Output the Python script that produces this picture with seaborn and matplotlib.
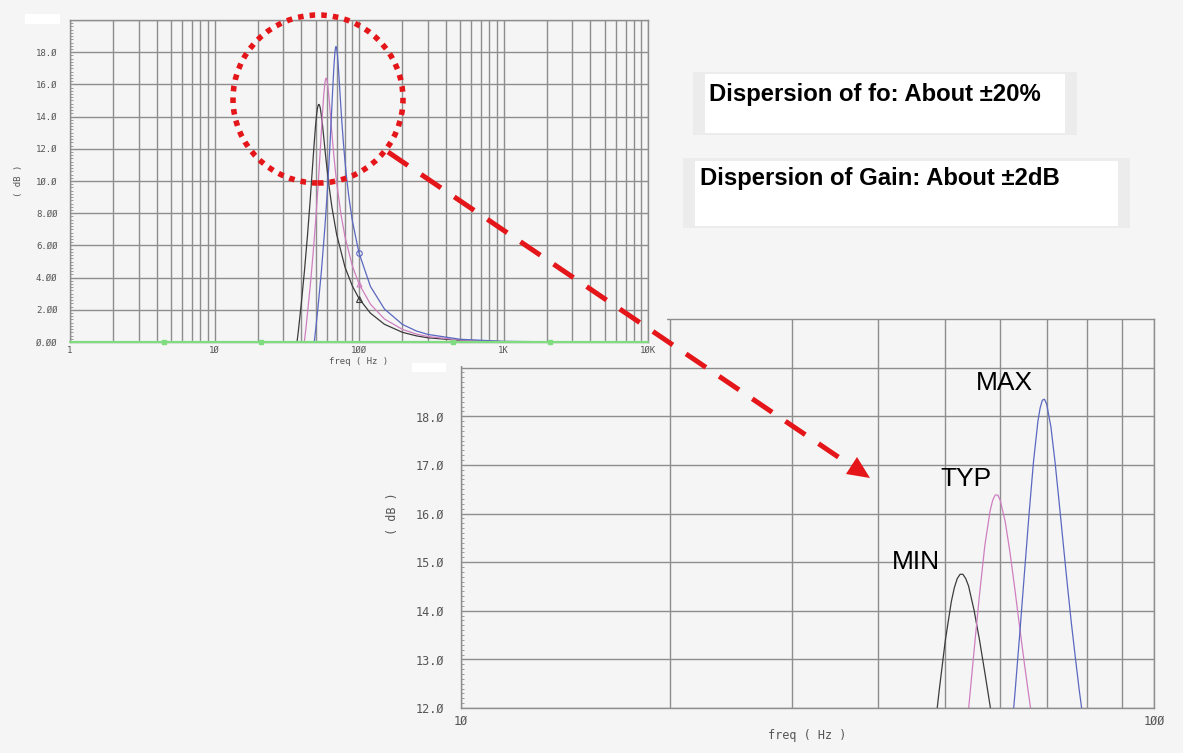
import numpy as np
import pandas as pd
import matplotlib
matplotlib.use('Agg')
import matplotlib.pyplot as plt
import seaborn as sns
from matplotlib.patches import Rectangle, Ellipse, Polygon
from matplotlib.lines import Line2D
from matplotlib.ticker import LogLocator, FixedLocator, MultipleLocator, NullFormatter

# Curvas (frecuencia en Hz, ganancia en dB)
min_freq = [20, 30, 35, 38, 40, 42, 44, 46, 48, 49, 50, 51, 51.5, 52, 52.5, 53, 53.5, 54, 55, 56,
            57, 58, 59, 60, 62, 65, 70, 80, 90, 100, 120, 150, 200, 250, 300, 500, 1000, 3000, 10000]
min_db = [-15.36, -6.30, -2.03, 0.64, 2.51, 4.49, 6.61, 8.88, 11.25, 12.38, 13.40, 14.19, 14.47,
          14.66, 14.75, 14.75, 14.66, 14.51, 14.01, 13.40, 12.73, 12.05, 11.40, 10.80, 9.70, 8.36,
          6.69, 4.65, 3.47, 2.70, 1.79, 1.10, 0.60, 0.38, 0.26, 0.10, 0.02, 0.0, 0.0]

typ_freq = [20, 30, 35, 40, 43, 46, 48, 50, 52, 53, 54, 55, 56, 57, 58, 58.5, 59, 59.5, 60, 61,
            62, 63, 64, 65, 66, 67, 68, 70, 75, 80, 90, 100, 120, 150, 200, 250, 300, 500, 1000,
            3000, 10000]
typ_db = [-17.71, -9.16, -5.34, -1.51, 0.91, 3.50, 5.37, 7.39, 9.60, 10.77, 11.97, 13.18, 14.33,
          15.34, 16.05, 16.27, 16.38, 16.38, 16.27, 15.83, 15.18, 14.43, 13.66, 12.92, 12.23,
          11.58, 10.99, 9.93, 7.93, 6.53, 4.72, 3.62, 2.35, 1.43, 0.78, 0.49, 0.34, 0.12, 0.03,
          0.0, 0.0]

max_freq = [20, 30, 40, 45, 48, 50, 52, 55, 58, 60, 61, 62, 63, 64, 65, 66, 67, 68, 68.5, 69,
            69.5, 70, 71, 72, 73, 74, 75, 76, 77, 78, 79, 80, 82, 85, 90, 100, 120, 150, 200,
            250, 300, 500, 1000, 3000, 10000]
max_db = [-20.79, -12.69, -6.00, -2.74, -0.72, 0.68, 2.13, 4.46, 7.07, 9.00, 10.04, 11.15, 12.30,
          13.51, 14.75, 15.96, 17.06, 17.90, 18.17, 18.33, 18.35, 18.25, 17.78, 17.04, 16.20,
          15.35, 14.52, 13.74, 13.04, 12.37, 11.78, 11.22, 10.25, 9.04, 7.51, 5.53, 3.45, 2.05,
          1.09, 0.68, 0.47, 0.17, 0.04, 0.0, 0.0]

ref_freq = [1, 4.5, 21, 450, 2100, 10000]
ref_db = [0, 0, 0, 0, 0, 0]

top_xticks = [1, 10, 100, 1000, 10000]
top_xlabels = ['1', '1Ø', '1ØØ', '1K', '1ØK']
top_yticks = [0, 2, 4, 6, 8, 10, 12, 14, 16, 18, 20]
top_ylabels = ['Ø.ØØ', '2.ØØ', '4.ØØ', '6.ØØ', '8.ØØ', '1Ø.Ø', '12.Ø', '14.Ø', '16.Ø', '18.Ø', '']

bot_xticks = [10, 100]
bot_xlabels = ['1Ø', '1ØØ']
bot_xminor = [20, 30, 40, 50, 60, 70, 80, 90]
bot_yticks = [12, 13, 14, 15, 16, 17, 18, 19]
bot_ylabels = ['12.Ø', '13.Ø', '14.Ø', '15.Ø', '16.Ø', '17.Ø', '18.Ø', '']

colores = {'MIN': '#3c3c3c', 'TYP': '#cf7fbf', 'MAX': '#5a68c0'}
BG = '#f5f5f5'
GRID = '#8e8e8e'
TXT = '#555555'
RED = '#e5161a'

curves = pd.concat([
    pd.DataFrame({'freq': min_freq, 'dB': min_db, 'curve': 'MIN'}),
    pd.DataFrame({'freq': typ_freq, 'dB': typ_db, 'curve': 'TYP'}),
    pd.DataFrame({'freq': max_freq, 'dB': max_db, 'curve': 'MAX'}),
], ignore_index=True)

sns.set_theme(style='white')
plt.rcParams['font.family'] = ['DejaVu Sans']
plt.rcParams['text.color'] = 'black'

W, H = 1183, 753
fig = plt.figure(figsize=(W / 100, H / 100), dpi=100)
fig.patch.set_facecolor(BG)


def fx(x):
    return x / W


def fy(y):
    return 1 - y / H


def rect(x0, y0, x1, y1, color, z):
    fig.add_artist(Rectangle((fx(x0), fy(y1)), (x1 - x0) / W, (y1 - y0) / H,
                             transform=fig.transFigure, fc=color, ec='none', zorder=z))


ax_bot = fig.add_axes([fx(461), fy(708), (1154 - 461) / W, (708 - 319) / H], zorder=0)
ax_top = fig.add_axes([fx(70), fy(342), (648 - 70) / W, (342 - 20) / H], zorder=2)

for ax in (ax_top, ax_bot):
    ax.set_facecolor(BG)
    ax.set_xscale('log')
    for s in ax.spines.values():
        s.set_color(GRID)
        s.set_linewidth(1)
    sns.lineplot(data=curves, x='freq', y='dB', hue='curve', palette=colores,
                 estimator=None, sort=False, lw=0.9, legend=False, ax=ax)

# ---- grafica superior (vista completa) ----
ax_top.set_xlim(1, 10000)
ax_top.set_ylim(0, 20)
ax_top.set_xticks(top_xticks)
ax_top.set_xticklabels(top_xlabels)
ax_top.xaxis.set_minor_locator(LogLocator(base=10, subs=np.arange(2, 10)))
ax_top.xaxis.set_minor_formatter(NullFormatter())
ax_top.set_yticks(top_yticks)
ax_top.set_yticklabels(top_ylabels)
ax_top.yaxis.set_minor_locator(MultipleLocator(0.2))
ax_top.xaxis.grid(True, which='both', color=GRID, lw=1)
ax_top.yaxis.grid(True, which='major', color=GRID, lw=1)
ax_top.tick_params(axis='x', which='both', length=0, pad=3, labelsize=6.5, labelcolor=TXT,
                   labelfontfamily='DejaVu Sans Mono')
ax_top.tick_params(axis='y', which='major', length=0, pad=9, labelsize=6.5, labelcolor=TXT,
                   labelfontfamily='DejaVu Sans Mono')
ax_top.tick_params(axis='y', which='minor', length=2.5, direction='in', color=GRID, width=0.6, left=True)
ax_top.set_xlabel('freq ( Hz )', fontsize=6.5, color=TXT, family='DejaVu Sans Mono', labelpad=1)
ax_top.set_ylabel('( dB )', fontsize=6.5, color=TXT, family='DejaVu Sans Mono', labelpad=9)

# linea de referencia verde en 0 dB
ax_top.plot(ref_freq, ref_db, color='#7fdc7f', lw=1.6, marker='s', ms=2.5,
            markevery=[1, 2, 3, 4], clip_on=False, zorder=4)

# marcadores en 100 Hz
ax_top.plot(min_freq[min_freq.index(100)], min_db[min_freq.index(100)], marker='^', ms=4,
            mfc='none', mec=colores['MIN'], mew=0.8)
ax_top.plot(typ_freq[typ_freq.index(100)], typ_db[typ_freq.index(100)], marker='^', ms=3.5,
            mfc='none', mec=colores['TYP'], mew=0.8)
ax_top.plot(max_freq[max_freq.index(100)], max_db[max_freq.index(100)], marker='o', ms=4,
            mfc='none', mec=colores['MAX'], mew=0.8)

# ---- grafica inferior (zoom del pico) ----
ax_bot.set_xlim(10, 100)
ax_bot.set_ylim(12, 20)
ax_bot.set_xticks(bot_xticks)
ax_bot.set_xticklabels(bot_xlabels)
ax_bot.xaxis.set_minor_locator(FixedLocator(bot_xminor))
ax_bot.xaxis.set_minor_formatter(NullFormatter())
ax_bot.set_yticks(bot_yticks)
ax_bot.set_yticklabels(bot_ylabels)
ax_bot.yaxis.set_minor_locator(MultipleLocator(0.1))
ax_bot.xaxis.grid(True, which='both', color=GRID, lw=1)
ax_bot.yaxis.grid(True, which='major', color=GRID, lw=1)
ax_bot.tick_params(axis='x', which='both', length=0, pad=5, labelsize=8.5, labelcolor=TXT,
                   labelfontfamily='DejaVu Sans Mono')
ax_bot.tick_params(axis='y', which='major', length=0, pad=12, labelsize=8.5, labelcolor=TXT,
                   labelfontfamily='DejaVu Sans Mono')
ax_bot.tick_params(axis='y', which='minor', length=2.5, direction='in', color=GRID, width=0.6, left=True)
ax_bot.set_xlabel('freq ( Hz )', fontsize=8.5, color=TXT, family='DejaVu Sans Mono', labelpad=1)
ax_bot.set_ylabel('( dB )', fontsize=8.5, color=TXT, family='DejaVu Sans Mono', labelpad=12)

ax_bot.text(60.8, 18.69, 'MAX', fontsize=19, family='Liberation Sans', color='black',
            ha='center', va='center')
ax_bot.text(53.5, 16.71, 'TYP', fontsize=19, family='Liberation Sans', color='black',
            ha='center', va='center')
ax_bot.text(45.4, 15.0, 'MIN', fontsize=19, family='Liberation Sans', color='black',
            ha='center', va='center')

# fondo de la imagen superior que tapa la esquina de la inferior
rect(0, 0, 667, 366, BG, 1)
rect(25, 14, 60, 24, 'white', 3)
rect(412, 363, 446, 372, 'white', 3)

# cuadros de texto
rect(693, 72, 1077, 135, '#ececec', 3)
rect(705, 74, 1065, 133, 'white', 3)
rect(683, 158, 1130, 228, '#ececec', 3)
rect(695, 161, 1118, 226, 'white', 3)
fig.text(fx(709), fy(94), 'Dispersion of fo: About ±20%', fontsize=17.2, fontweight='bold',
         family='Liberation Sans', color='black', ha='left', va='center', zorder=4)
fig.text(fx(700), fy(179), 'Dispersion of Gain: About ±2dB', fontsize=17.2, fontweight='bold',
         family='Liberation Sans', color='black', ha='left', va='center', zorder=4)

# circulo punteado y flecha roja
fig.add_artist(Ellipse((fx(318), fy(99)), 170 / W, 168 / H, transform=fig.transFigure,
                       fill=False, ec=RED, lw=4, ls=(0, (1, 1.1)), zorder=6))
fig.add_artist(Line2D([fx(388), fx(853)], [fy(152), fy(467)], transform=fig.transFigure,
                      color=RED, lw=3.6, dashes=(4.8, 3.2), zorder=6))
fig.add_artist(Polygon([(fx(870), fy(478)), (fx(846), fy(474)), (fx(857), fy(457))],
                       closed=True, transform=fig.transFigure, fc=RED, ec='none', zorder=6))

fig.savefig('out.png', dpi=100, facecolor=BG)
